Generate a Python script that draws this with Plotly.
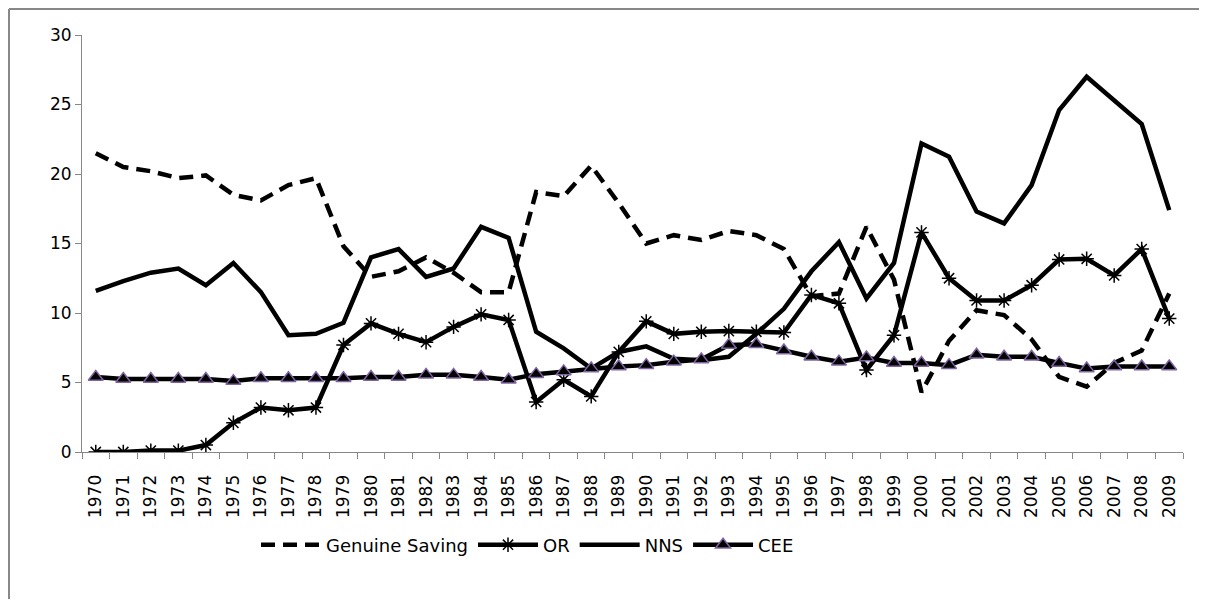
import plotly.graph_objects as go

years = [str(y) for y in range(1970, 2010)]

genuine_saving = [21.5, 20.5, 20.2, 19.7, 19.9, 18.5, 18.1, 19.2, 19.7, 14.8,
                  12.6, 13.0, 14.0, 12.9, 11.5, 11.5, 18.7, 18.4, 20.6, 17.9,
                  15.0, 15.6, 15.25, 15.9, 15.6, 14.6, 11.2, 11.4, 16.2, 12.4,
                  4.3, 8.0, 10.2, 9.85, 8.1, 5.4, 4.7, 6.4, 7.3, 11.4]

or_vals = [0.0, 0.0, 0.1, 0.1, 0.5, 2.1, 3.2, 3.0, 3.2, 7.7,
           9.25, 8.5, 7.9, 9.0, 9.9, 9.5, 3.6, 5.2, 4.0, 7.2,
           9.4, 8.5, 8.65, 8.7, 8.65, 8.6, 11.3, 10.7, 5.9, 8.4,
           15.8, 12.5, 10.9, 10.9, 12.0, 13.85, 13.9, 12.7, 14.6, 9.6]

nns = [11.6, 12.3, 12.9, 13.2, 12.0, 13.6, 11.5, 8.4, 8.5, 9.3,
       14.0, 14.6, 12.6, 13.2, 16.2, 15.4, 8.65, 7.45, 6.0, 7.2,
       7.6, 6.7, 6.6, 6.85, 8.5, 10.3, 13.0, 15.1, 11.05, 13.6,
       22.2, 21.25, 17.3, 16.45, 19.2, 24.6, 27.0, 25.3, 23.6, 17.4]

cee = [5.4, 5.25, 5.25, 5.25, 5.25, 5.1, 5.3, 5.3, 5.3, 5.3,
       5.4, 5.4, 5.55, 5.55, 5.4, 5.2, 5.6, 5.8, 6.0, 6.15,
       6.25, 6.5, 6.65, 7.7, 7.75, 7.3, 6.85, 6.5, 6.8, 6.4,
       6.4, 6.25, 7.0, 6.85, 6.85, 6.4, 6.0, 6.15, 6.15, 6.15]

FONT = "DejaVu Sans"
OFF = 8  # page body margin

fig = go.Figure()
fig.add_trace(go.Scatter(x=years, y=genuine_saving, name="Genuine Saving", mode="lines",
                         line=dict(color="black", width=4.5, dash="14px,8px")))
fig.add_trace(go.Scatter(x=years, y=or_vals, name="OR", mode="lines+markers",
                         line=dict(color="black", width=4.5),
                         marker=dict(symbol="asterisk-open", size=12, color="black",
                                     line=dict(color="black", width=1.5))))
fig.add_trace(go.Scatter(x=years, y=nns, name="NNS", mode="lines",
                         line=dict(color="black", width=4.5)))
fig.add_trace(go.Scatter(x=years, y=cee, name="CEE", mode="lines+markers",
                         line=dict(color="black", width=4.5),
                         marker=dict(symbol="triangle-up", size=13, color="black",
                                     line=dict(color="#8064A2", width=1.5))))

W, H = 1207 - OFF, 607 - 2 * OFF
plot_left, plot_right, plot_top, plot_bottom = 82 - OFF, 1183 - OFF, 35 - OFF, 452 - OFF
L, R, T, B = plot_left, W - plot_right, plot_top, H - plot_bottom
pw, ph = W - L - R, H - T - B

legend_center_y = 545 - OFF
bx = (1 - L) / pw
by = (plot_bottom - 1) / ph

fig.update_layout(
    width=W, height=H,
    margin=dict(l=L, r=R, t=T, b=B),
    paper_bgcolor="white", plot_bgcolor="white",
    font=dict(family=FONT, size=17, color="black"),
    showlegend=True,
    legend=dict(orientation="h", x=(256 - 82) / 1101, xanchor="left",
                y=(plot_bottom - legend_center_y) / ph, yanchor="middle",
                font=dict(family=FONT, size=18, color="black"),
                itemwidth=60, bgcolor="rgba(0,0,0,0)"),
    xaxis=dict(type="category", tickangle=-90, showgrid=False, zeroline=False,
               showline=True, linecolor="#888888", linewidth=1,
               ticks="outside", tickson="boundaries", ticklen=6, tickcolor="#888888",
               ticklabelstandoff=15,
               tickfont=dict(family=FONT, size=17), range=[-0.5, 39.5]),
    yaxis=dict(range=[0, 30], dtick=5, showgrid=False, zeroline=False,
               showline=True, linecolor="#888888", linewidth=1,
               ticks="outside", ticklen=6, tickcolor="#888888",
               tickfont=dict(family=FONT, size=17)),
    shapes=[
        dict(type="line", xref="paper", yref="paper", x0=bx, x1=bx, y0=-0.6, y1=by,
             line=dict(color="#888888", width=2), layer="below"),
        dict(type="line", xref="paper", yref="paper", x0=bx, x1=1.2, y0=by, y1=by,
             line=dict(color="#888888", width=2), layer="below"),
    ],
)

fig.write_html("out.html")
